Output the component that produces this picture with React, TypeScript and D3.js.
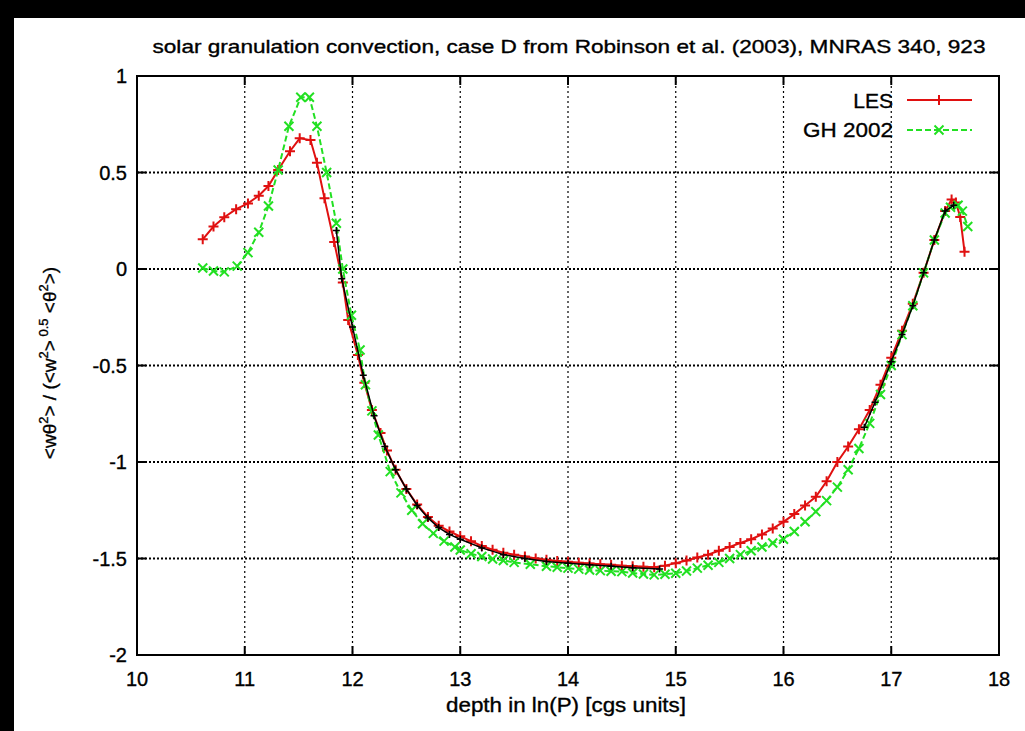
import React from "react";
import * as d3 from "d3";

const title = "solar granulation convection, case D from Robinson et al. (2003), MNRAS 340, 923";
const xTicks = [10, 11, 12, 13, 14, 15, 16, 17, 18];
const yTicks = [1, 0.5, 0, -0.5, -1, -1.5, -2];
const yTickLabels = ["1", "0.5", "0", "-0.5", "-1", "-1.5", "-2"];

const lesX = [10.61, 10.71, 10.81, 10.92, 11.03, 11.13, 11.22, 11.31, 11.42, 11.51, 11.61, 11.67, 11.74, 11.83, 11.91, 11.96, 12.05, 12.11, 12.18, 12.26, 12.32, 12.4, 12.5, 12.6, 12.7, 12.8, 12.9, 13.0, 13.1, 13.2, 13.3, 13.4, 13.5, 13.6, 13.7, 13.8, 13.9, 14.0, 14.1, 14.2, 14.3, 14.4, 14.5, 14.6, 14.7, 14.8, 14.9, 15.0, 15.1, 15.2, 15.3, 15.4, 15.5, 15.6, 15.7, 15.8, 15.9, 16.0, 16.1, 16.2, 16.3, 16.4, 16.5, 16.6, 16.7, 16.8, 16.9, 17.0, 17.1, 17.2, 17.3, 17.4, 17.5, 17.56, 17.6, 17.64, 17.68];
const lesY = [0.154, 0.22, 0.268, 0.31, 0.34, 0.38, 0.43, 0.513, 0.61, 0.677, 0.668, 0.55, 0.366, 0.14, -0.07, -0.264, -0.446, -0.59, -0.73, -0.85, -0.94, -1.04, -1.14, -1.22, -1.285, -1.33, -1.36, -1.385, -1.41, -1.435, -1.455, -1.47, -1.48, -1.49, -1.5, -1.507, -1.513, -1.517, -1.522, -1.526, -1.53, -1.533, -1.537, -1.54, -1.543, -1.545, -1.537, -1.524, -1.51, -1.495, -1.48, -1.46, -1.44, -1.42, -1.4, -1.375, -1.345, -1.31, -1.27, -1.225, -1.18, -1.1, -1.0, -0.92, -0.83, -0.73, -0.6, -0.46, -0.32, -0.18, -0.02, 0.15, 0.3, 0.36, 0.345, 0.27, 0.09];

const ghX = [10.61, 10.71, 10.81, 10.93, 11.03, 11.13, 11.22, 11.31, 11.41, 11.52, 11.6, 11.67, 11.76, 11.85, 11.91, 11.99, 12.07, 12.12, 12.18, 12.24, 12.35, 12.45, 12.55, 12.65, 12.75, 12.85, 12.95, 13.0, 13.1, 13.2, 13.3, 13.4, 13.5, 13.65, 13.8, 13.9, 14.0, 14.1, 14.2, 14.3, 14.4, 14.5, 14.6, 14.7, 14.8, 14.9, 15.0, 15.1, 15.2, 15.3, 15.4, 15.5, 15.6, 15.7, 15.8, 15.9, 16.0, 16.1, 16.2, 16.3, 16.4, 16.5, 16.6, 16.7, 16.8, 16.9, 17.0, 17.1, 17.2, 17.3, 17.4, 17.5, 17.55, 17.62, 17.66, 17.71];
const ghY = [0.005, -0.01, -0.015, 0.015, 0.085, 0.19, 0.326, 0.513, 0.74, 0.89, 0.89, 0.74, 0.5, 0.237, 0.0, -0.24, -0.42, -0.6, -0.735, -0.86, -1.05, -1.16, -1.25, -1.32, -1.37, -1.41, -1.44, -1.456, -1.475, -1.49, -1.503, -1.51, -1.52, -1.53, -1.54, -1.545, -1.55, -1.555, -1.56, -1.563, -1.566, -1.568, -1.575, -1.58, -1.585, -1.582, -1.576, -1.565, -1.55, -1.535, -1.52, -1.5, -1.48, -1.46, -1.44, -1.42, -1.4, -1.36, -1.31, -1.257, -1.2, -1.13, -1.04, -0.93, -0.8, -0.65, -0.5, -0.34, -0.19, -0.02, 0.15, 0.29, 0.32, 0.33, 0.3, 0.22];

const refAX = [11.85, 11.9, 12.0, 12.1, 12.2, 12.3, 12.4, 12.5, 12.6, 12.7, 12.8, 12.9, 13.0, 13.2, 13.4, 13.6, 13.8, 14.0, 14.2, 14.4, 14.6, 14.85];
const refAY = [0.2, -0.05, -0.3, -0.55, -0.76, -0.92, -1.04, -1.14, -1.225, -1.29, -1.34, -1.375, -1.4, -1.445, -1.48, -1.5, -1.515, -1.525, -1.533, -1.54, -1.548, -1.555];
const refBX = [16.75, 16.85, 17.0, 17.1, 17.2, 17.3, 17.4, 17.5, 17.58];
const refBY = [-0.82, -0.69, -0.48, -0.34, -0.19, -0.02, 0.15, 0.3, 0.33];

const W = 1025, H = 731;
const L = 137, R = 999, T = 76, B = 655;
const FONT = "'Liberation Sans', Arial, Helvetica, sans-serif";

const x = d3.scaleLinear().domain([10, 18]).range([L, R]);
const y = d3.scaleLinear().domain([-2, 1]).range([B, T]);

type P = [number, number];
const zip = (xs: number[], ys: number[]): P[] => xs.map((v, i) => [v, ys[i]]);
const line = d3.line<P>().x(d => x(d[0])).y(d => y(d[1]));

const Plus = ({ cx, cy, s, color, w }: { cx: number; cy: number; s: number; color: string; w: number }) => (
  <path d={`M${cx - s},${cy}H${cx + s}M${cx},${cy - s}V${cy + s}`} stroke={color} strokeWidth={w} fill="none" />
);
const Cross = ({ cx, cy, s, color, w }: { cx: number; cy: number; s: number; color: string; w: number }) => (
  <path d={`M${cx - s},${cy - s}L${cx + s},${cy + s}M${cx - s},${cy + s}L${cx + s},${cy - s}`} stroke={color} strokeWidth={w} fill="none" />
);

const txt = { fontFamily: FONT, fill: "#000", stroke: "#000", strokeWidth: 0.35 } as const;

export default function App() {
  const les = zip(lesX, lesY);
  const gh = zip(ghX, ghY);
  const refA = zip(refAX, refAY);
  const refB = zip(refBX, refBY);
  const RED = "#e01010";
  const GREEN = "#22e022";
  return (
    <svg width={W} height={H} style={{ position: "absolute", left: 0, top: 0, display: "block", background: "#fff" }}>
      <rect x={0} y={0} width={W} height={H} fill="#fff" />
      <rect x={0} y={0} width={W} height={18} fill="#000" />
      <rect x={0} y={0} width={14} height={H} fill="#000" />
      <text x={569} y={53} textAnchor="middle" fontSize={19} textLength={833} lengthAdjust="spacingAndGlyphs" {...txt}>{title}</text>
      {/* grid */}
      {xTicks.slice(1, -1).map(t => (
        <line key={"gx" + t} x1={x(t)} x2={x(t)} y1={T} y2={B} stroke="#000" strokeWidth={1.2} strokeDasharray="2,3" />
      ))}
      {yTicks.slice(1, -1).map(t => (
        <line key={"gy" + t} x1={L} x2={R} y1={y(t)} y2={y(t)} stroke="#000" strokeWidth={2} strokeDasharray="2,2" />
      ))}
      {/* ticks */}
      {xTicks.map(t => (
        <g key={"tx" + t}>
          <line x1={x(t)} x2={x(t)} y1={B} y2={B - 9} stroke="#000" strokeWidth={2} />
          <line x1={x(t)} x2={x(t)} y1={T} y2={T + 9} stroke="#000" strokeWidth={2} />
          <text x={x(t)} y={B + 31} textAnchor="middle" fontSize={20} {...txt}>{t}</text>
        </g>
      ))}
      {yTicks.map((t, i) => (
        <g key={"ty" + t}>
          <line x1={L} x2={L + 9} y1={y(t)} y2={y(t)} stroke="#000" strokeWidth={2} />
          <line x1={R} x2={R - 9} y1={y(t)} y2={y(t)} stroke="#000" strokeWidth={2} />
          <text x={L - 10} y={y(t) + 7} textAnchor="end" fontSize={20} {...txt}>{yTickLabels[i]}</text>
        </g>
      ))}
      {/* series */}
      <path d={line(les) || ""} fill="none" stroke={RED} strokeWidth={2} />
      {les.map((d, i) => <Plus key={"lp" + i} cx={x(d[0])} cy={y(d[1])} s={5} color={RED} w={2} />)}
      <path d={line(gh) || ""} fill="none" stroke={GREEN} strokeWidth={2} strokeDasharray="6,3" />
      {gh.map((d, i) => <Cross key={"gp" + i} cx={x(d[0])} cy={y(d[1])} s={4.5} color={GREEN} w={2} />)}
      <path d={line(refA) || ""} fill="none" stroke="#000" strokeWidth={1.5} />
      {refA.map((d, i) => <Plus key={"ra" + i} cx={x(d[0])} cy={y(d[1])} s={3.5} color="#000" w={1.5} />)}
      <path d={line(refB) || ""} fill="none" stroke="#000" strokeWidth={1.5} />
      {refB.map((d, i) => <Plus key={"rb" + i} cx={x(d[0])} cy={y(d[1])} s={3.5} color="#000" w={1.5} />)}
      {/* legend */}
      <text x={893} y={108} textAnchor="end" fontSize={21} {...txt}>LES</text>
      <line x1={907} x2={972} y1={100} y2={100} stroke={RED} strokeWidth={2} />
      <Plus cx={939} cy={100} s={5} color={RED} w={2} />
      <text x={893} y={137} textAnchor="end" fontSize={21} textLength={90} lengthAdjust="spacingAndGlyphs" {...txt}>GH 2002</text>
      <line x1={907} x2={972} y1={130} y2={130} stroke={GREEN} strokeWidth={2} strokeDasharray="6,3" />
      <Cross cx={939} cy={130} s={4.5} color={GREEN} w={2} />
      {/* border */}
      <rect x={L} y={T} width={R - L} height={B - T} fill="none" stroke="#000" strokeWidth={2} />
      {/* axis titles */}
      <text x={566} y={712} textAnchor="middle" fontSize={20} textLength={240} lengthAdjust="spacingAndGlyphs" {...txt}>depth in ln(P) [cgs units]</text>
      <text transform={`translate(56, 363) rotate(-90)`} textAnchor="middle" fontSize={19} {...txt}>
        {"<wθ"}<tspan dy={-8} fontSize={13}>2</tspan><tspan dy={8}>{"> / (<w"}</tspan><tspan dy={-8} fontSize={13}>2</tspan><tspan dy={8}>{">"}</tspan><tspan dy={-8} fontSize={13}>{" 0.5"}</tspan><tspan dy={8}>{" <θ"}</tspan><tspan dy={-8} fontSize={13}>2</tspan><tspan dy={8}>{">)"}</tspan>
      </text>
    </svg>
  );
}
